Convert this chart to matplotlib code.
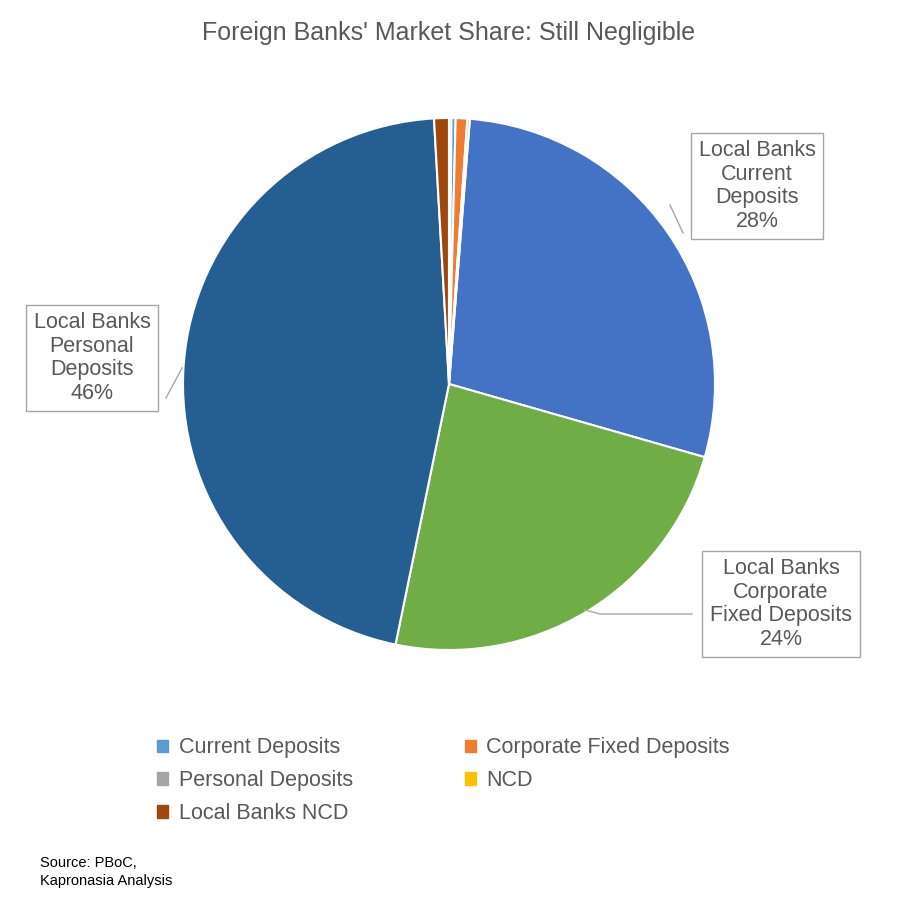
import matplotlib
matplotlib.use("Agg")
import matplotlib.pyplot as plt
from matplotlib.patches import Patch

plt.rcParams["font.family"] = ["Liberation Sans", "DejaVu Sans"]

# slices, clockwise from the top
names = ["Local Banks Current Deposits", "Local Banks Corporate Fixed Deposits",
         "Local Banks Personal Deposits", "Local Banks NCD", "Personal Deposits",
         "Current Deposits", "Corporate Fixed Deposits", "NCD"]
shares = [28.2, 23.8, 45.9, 0.9, 0.15, 0.25, 0.7, 0.15]
colors = ["#4472C4", "#70AD47", "#255E91", "#9E480E", "#A5A5A5",
          "#5B9BD5", "#ED7D31", "#FFC000"]

legend_order = ["Current Deposits", "Personal Deposits", "Local Banks NCD",
                "Corporate Fixed Deposits", "NCD"]

W, H = 898, 923
TXT = "#595959"
fig = plt.figure(figsize=(W / 100, H / 100), dpi=100)

cx, cy, r = 449, 384, 266
ax = fig.add_axes([(cx - r) / W, (H - cy - r) / H, 2 * r / W, 2 * r / H])
ax.pie(shares, colors=colors, startangle=85.5, counterclock=False,
       wedgeprops=dict(edgecolor="white", linewidth=1.5))
ax.set_xlim(-1, 1)
ax.set_ylim(-1, 1)
ax.set_aspect("equal")
ax.axis("off")

fig.text(0.5, 1 - 33 / H, "Foreign Banks' Market Share: Still Negligible",
         ha="center", va="center", fontsize=18, color=TXT)


def px(x, y):
    return (x / W, 1 - y / H)


# (label text, box centre, leader from, leader to)
callouts = [
    ("Local Banks\nCurrent\nDeposits\n28%", (757, 186), [(683, 233), (670, 205)]),
    ("Local Banks\nPersonal\nDeposits\n46%", (92, 358), [(166, 398), (182, 368)]),
    ("Local Banks\nCorporate\nFixed Deposits\n24%", (781, 604), [(692, 614), (600, 614), (585, 610)]),
]
for text, (bx, by), pts in callouts:
    xs = [px(*p)[0] for p in pts]
    ys = [px(*p)[1] for p in pts]
    fig.add_artist(plt.Line2D(xs, ys, transform=fig.transFigure, color="#A6A6A6", lw=1))
    fig.text(*px(bx, by), text, ha="center", va="center", fontsize=15.5, color=TXT,
             linespacing=1.15,
             bbox=dict(boxstyle="square,pad=0.35", fc="white", ec="#A6A6A6", lw=1))

handles = [Patch(color=colors[names.index(n)], label=n) for n in legend_order]
fig.legend(handles=handles, ncol=2, loc="upper left", bbox_to_anchor=px(138, 718),
           frameon=False, fontsize=15.5, labelcolor=TXT, handlelength=0.5,
           handleheight=0.5, handletextpad=0.5, columnspacing=5.2, labelspacing=0.55)

fig.text(*px(40, 872), "Source: PBoC,\nKapronasia Analysis", ha="left", va="center",
         fontsize=10.5, color="black", linespacing=1.3)

fig.savefig("out.png", dpi=100)
